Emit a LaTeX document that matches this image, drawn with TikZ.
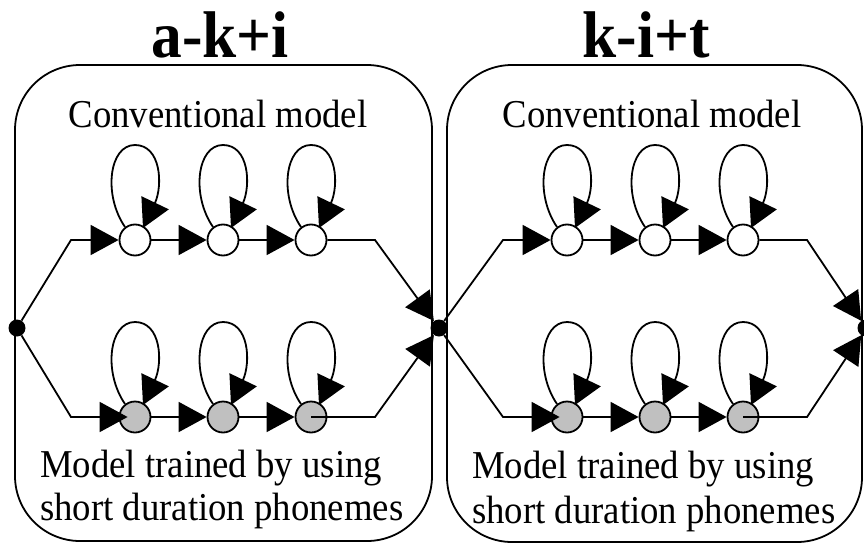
\documentclass[tikz,border=0pt]{standalone}
\usepackage{fontspec}
\setmainfont[FakeStretch=0.93]{Liberation Serif}
\usetikzlibrary{arrows.meta}
\definecolor{stategray}{RGB}{192,192,192}
\tikzset{
  ln/.style={line width=1.8pt, black},
  arr/.style={ln, -{Triangle[length=28pt,width=30pt]}},
  st/.style={circle, draw, line width=1.8pt, minimum size=31pt, inner sep=0pt, fill=white},
  gst/.style={st, fill=stategray},
  jdot/.style={circle, fill=black, minimum size=17pt, inner sep=0pt},
  panel/.style={line width=1.8pt, rounded corners=65pt},
  title/.style={font=\fontsize{66}{66}\selectfont\bfseries, inner sep=0pt, anchor=base},
  lbl/.style={font=\fontsize{39.5}{42}\selectfont, inner sep=0pt}
}
\newcommand\selfloop[1]{%
  \draw[arr] ([shift={(-10,-13)}]#1.center)
    .. controls ([shift={(-32,-45)}]#1.center) and ([shift={(-26,-95)}]#1.center)
    .. ([shift={(0,-95)}]#1.center)
    .. controls ([shift={(26,-95)}]#1.center) and ([shift={(28,-55)}]#1.center)
    .. ([shift={(20,-37)}]#1.center) -- ([shift={(8,-12)}]#1.center);}
\begin{document}
\begin{tikzpicture}[x=1pt,y=-1pt]
\useasboundingbox (0,0) rectangle (864,543);
% panels
\draw[panel] (15,65) rectangle (432,541);
\draw[panel] (447,65) rectangle (862,542);
% titles
\node[title] (t1) at (220,58) {a-k+i};
\node[title] (t2) at (646,58) {k-i+t};
% labels
\node[lbl, anchor=base] (c1) at (218,127) {Conventional model};
\node[lbl, anchor=base] (c2) at (652,127) {Conventional model};
\node[lbl, anchor=base west] (m1a) at (40,477) {Model trained by using};
\node[lbl, anchor=base west] (m1b) at (40,520) {short duration phonemes};
\node[lbl, anchor=base west] (m2a) at (472,478) {Model trained by using};
\node[lbl, anchor=base west] (m2b) at (472,523) {short duration phonemes};
% junction dots
\node[jdot] (dL) at (17,328) {};
\node[jdot] (dM) at (439,328) {};
\node[jdot] (dR) at (866,328) {};
% states left panel
\node[st] (a1) at (135,240) {};
\node[st] (a2) at (223,240) {};
\node[st] (a3) at (311,240) {};
\node[gst] (b1) at (135,417) {};
\node[gst] (b2) at (223,417) {};
\node[gst] (b3) at (311,417) {};
% states right panel
\node[st] (p1) at (567,240) {};
\node[st] (p2) at (655,240) {};
\node[st] (p3) at (743,240) {};
\node[gst] (q1) at (567,417) {};
\node[gst] (q2) at (655,417) {};
\node[gst] (q3) at (743,417) {};
% bend points
\coordinate (aL) at (71,240);
\coordinate (aR) at (375,240);
\coordinate (bL) at (71,417);
\coordinate (bR) at (375,417);
\coordinate (pL) at (503,240);
\coordinate (pR) at (807,240);
\coordinate (qL) at (503,417);
\coordinate (qR) at (807,417);
% left panel connectors
\draw[arr] (dL) -- (aL) -- (a1);
\draw[arr] (a1) -- (a2);
\draw[arr] (a2) -- (a3);
\draw[arr] (a3) -- (aR) -- (dM);
\draw[arr] (dL) -- (bL) -- ([xshift=9pt]b1.west);
\draw[arr] (b1) -- (b2);
\draw[arr] (b2) -- (b3);
\draw[arr] (b3.center) -- (bR) -- (dM);
% right panel connectors
\draw[arr] (dM) -- (pL) -- (p1);
\draw[arr] (p1) -- (p2);
\draw[arr] (p2) -- (p3);
\draw[arr] (p3) -- (pR) -- (dR);
\draw[arr] (dM) -- (qL) -- ([xshift=9pt]q1.west);
\draw[arr] (q1) -- (q2);
\draw[arr] (q2) -- (q3);
\draw[arr] (q3.center) -- (qR) -- (dR);
% self loops
\foreach \s in {a1,a2,a3,b1,b2,b3,p1,p2,p3,q1,q2,q3} {\selfloop{\s}}
\end{tikzpicture}
\end{document}
